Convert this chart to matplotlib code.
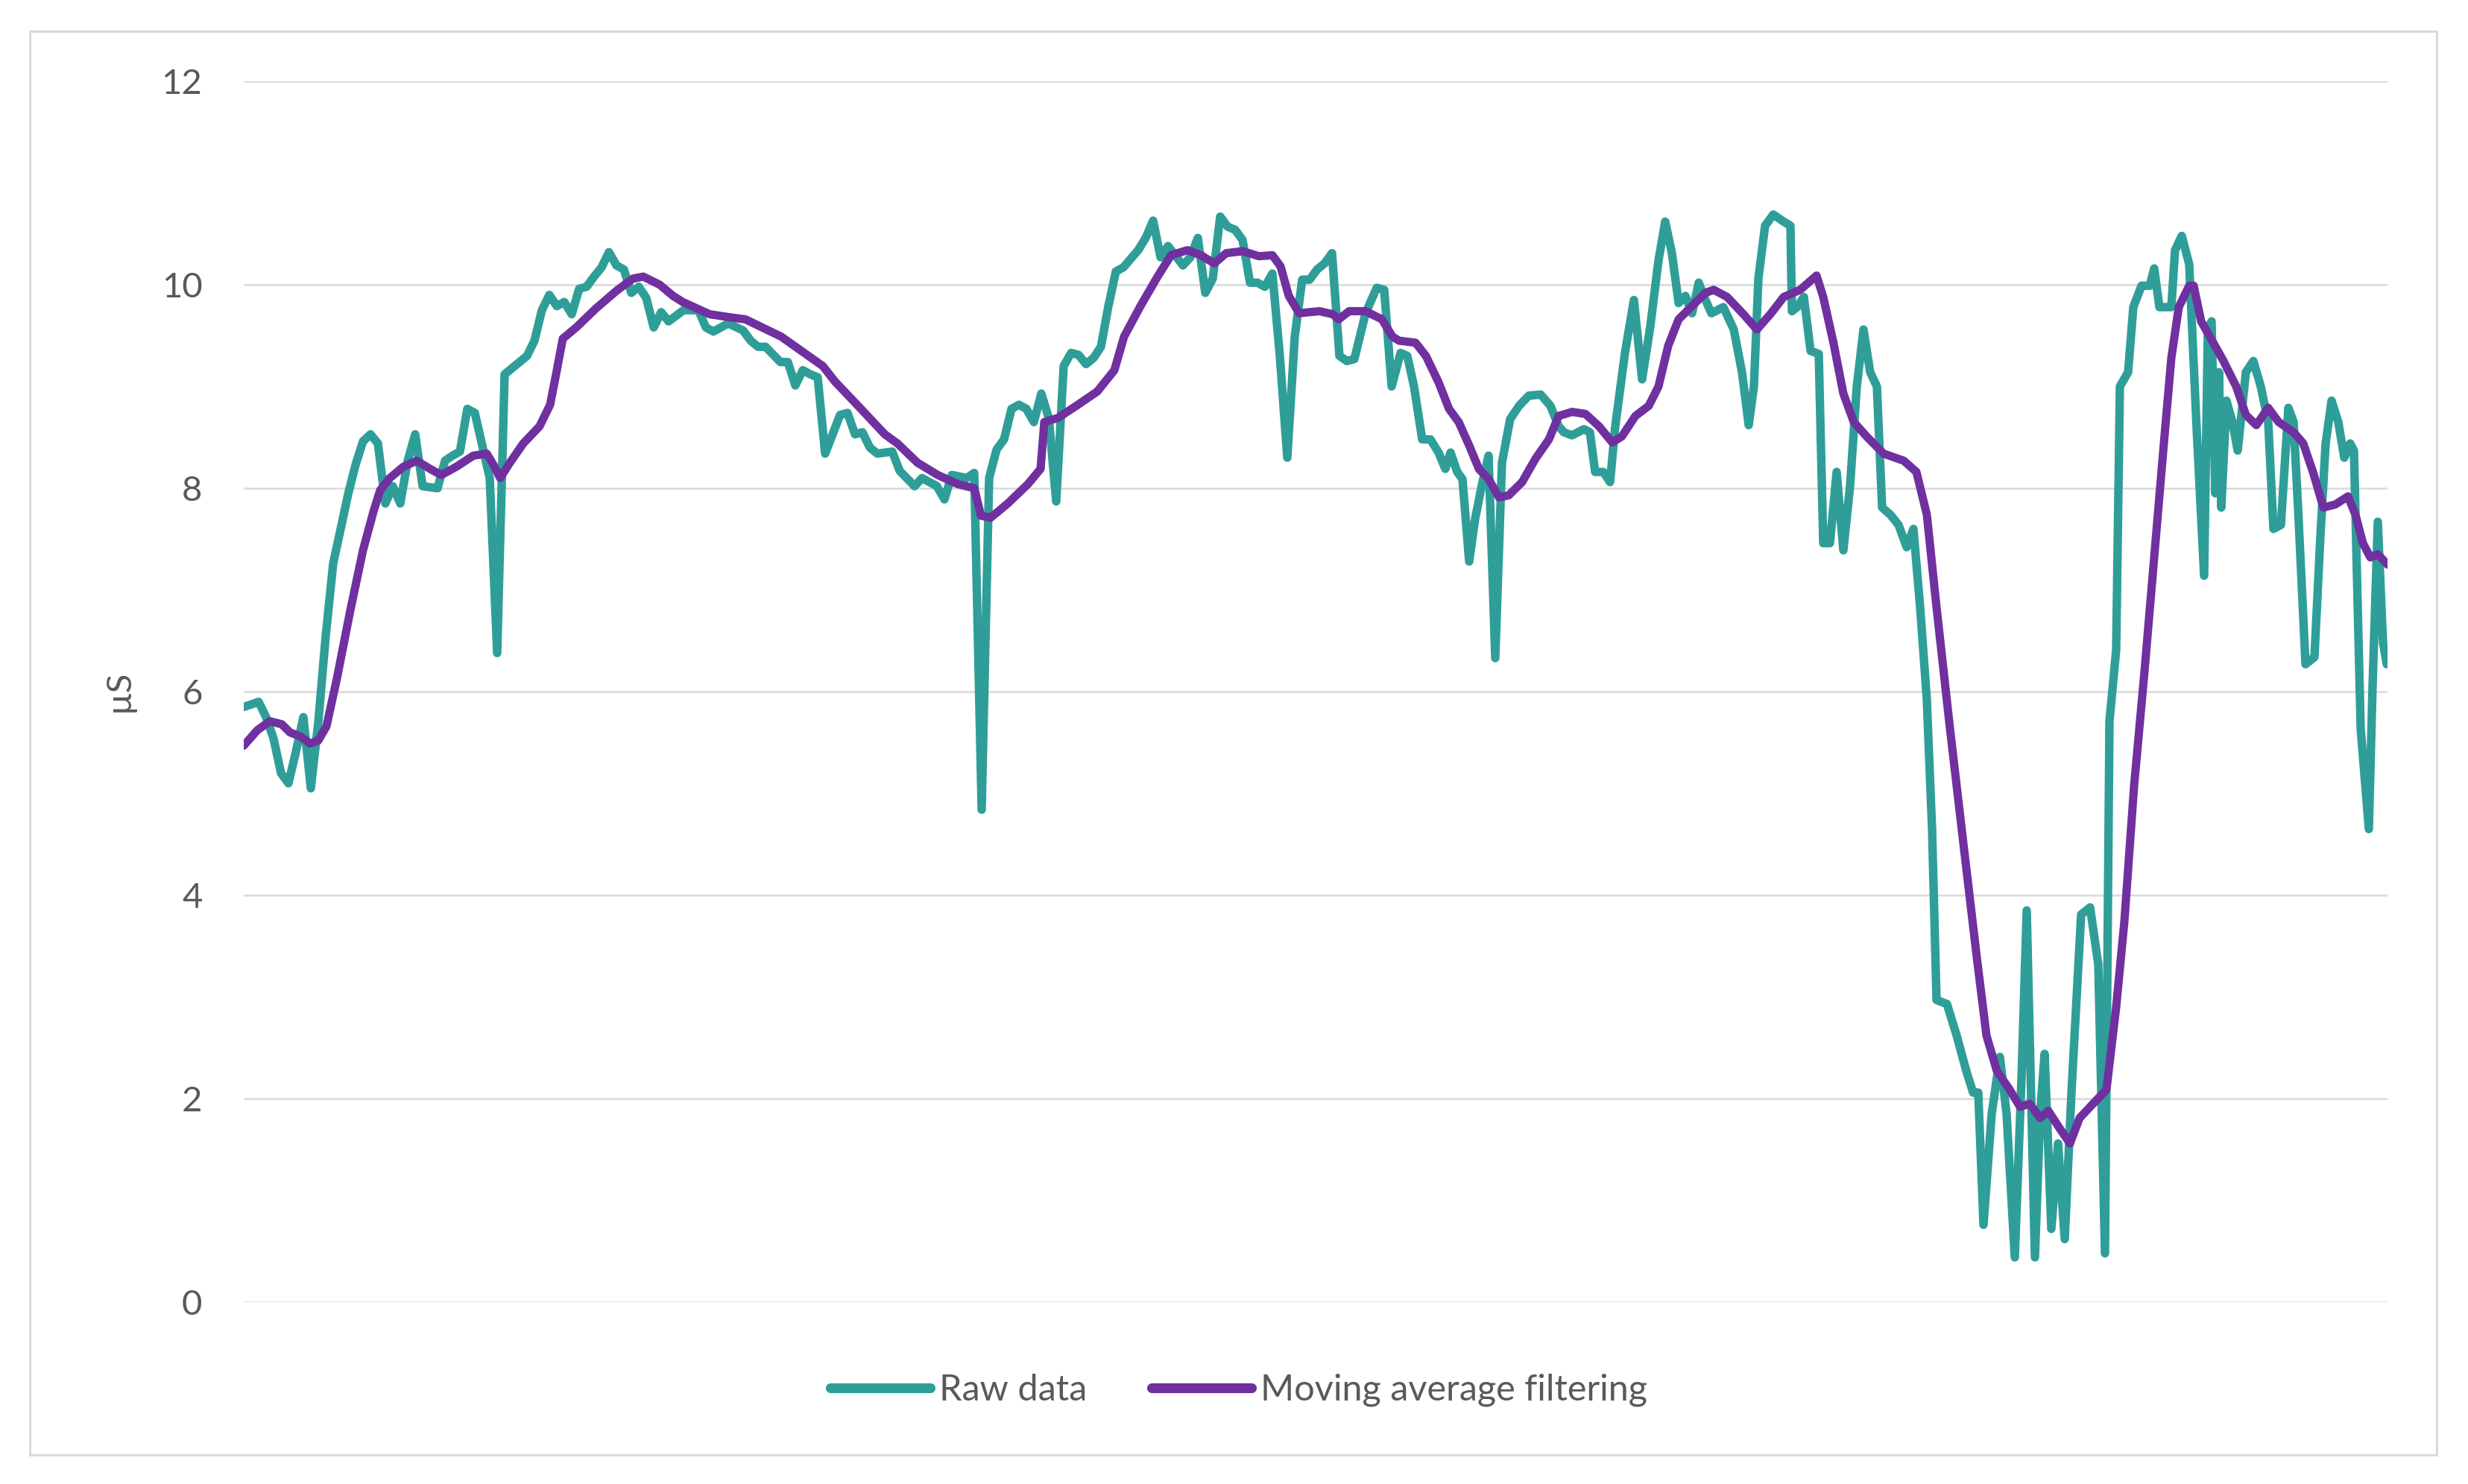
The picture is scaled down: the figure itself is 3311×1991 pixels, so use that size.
import numpy as np
import matplotlib
matplotlib.use("Agg")
import matplotlib.pyplot as plt
from matplotlib.patches import Rectangle

plt.rcParams["font.family"] = ["Lato", "DejaVu Sans"]

# sample index (x) and conductance in µS
raw_t = [0, 2, 3, 4, 5, 6, 7, 8, 9, 10,
         11, 12, 13, 14, 15, 16, 17, 18, 19, 20,
         21, 22, 23, 24, 26, 27, 28, 29, 30, 31,
         33, 34, 35, 37, 38, 39, 40, 41, 42, 43,
         44, 45, 46, 47, 48, 49, 50, 51, 52, 53,
         54, 55, 56, 57, 59, 61, 62, 63, 65, 67,
         68, 69, 70, 72, 73, 74, 75, 76, 77, 78,
         79, 80, 81, 82, 83, 84, 85, 87, 88, 90,
         91, 92, 93, 94, 95, 97, 98, 99, 100, 101,
         102, 103, 104, 105, 106, 107, 108, 109, 110, 111,
         112, 113, 114, 115, 116, 117, 118, 120, 121, 122,
         123, 124, 126, 127, 128, 129, 130, 131, 132, 133,
         134, 135, 136, 137, 138, 139, 140, 141, 142, 143,
         144, 145, 146, 147, 148, 149, 150.5, 152, 153, 154,
         155.2, 156.1, 157, 158.1, 159.2, 160.3, 161.2, 161.9, 162.8, 163.5,
         164.4, 165.2, 166.1, 167, 167.9, 168.8, 169.9, 171.1, 172.4, 174,
         175.3, 176.4, 177.1, 178.2, 179.8, 180.6, 181.3, 182.4, 183.3, 184,
         185.3, 186.5, 187.6, 188.7, 189.8, 190.7, 191.6, 192.5, 193.4, 194.3,
         195.2, 196.1, 196.9, 198.5, 199.9, 201, 201.9, 202.6, 203.2, 204.1,
         205.2, 206.6, 207.5, 207.7, 208.4, 209.3, 210.2, 211.3, 211.9, 212.8,
         213.7, 214.6, 215.5, 216.4, 217.3, 218.2, 219.1, 219.8, 220.9, 222,
         223.1, 224, 224.9, 225.8, 226.5, 227.1, 228.5, 229.8, 231.1, 232,
         232.7, 233.4, 234.5, 235.6, 236.5, 237.6, 238.5, 239.2, 240.3, 241,
         241.6, 242.5, 243.4, 244.3, 245.2, 246.5, 247.7, 248.8, 249.7, 250.3,
         251.2, 251.7, 252.8, 253.5, 254.6, 255.7, 256.3, 257, 258.6, 259.1,
         260, 261, 262, 263, 263.5, 264, 264.5, 265, 265.3, 266,
         266.8, 267.5, 268.6, 269.6, 270.6, 271.6, 272.3, 273.3, 274.3, 275,
         275.6, 276.6, 277.8, 278.6, 279.3, 280.1, 281, 281.8, 282.6, 283.1,
         284, 285.1, 285.6, 286.3, 287, 287.5]

raw_us = [5.85, 5.9, 5.75, 5.54, 5.2, 5.1, 5.41, 5.75, 5.05, 5.7,
          6.55, 7.26, 7.6, 7.94, 8.23, 8.46, 8.53, 8.44, 7.85, 8.02,
          7.85, 8.27, 8.53, 8.02, 8.0, 8.27, 8.32, 8.36, 8.78, 8.74,
          8.1, 6.38, 9.12, 9.24, 9.3, 9.45, 9.75, 9.9, 9.79, 9.83,
          9.71, 9.96, 9.98, 10.08, 10.17, 10.32, 10.19, 10.15, 9.92, 9.98,
          9.87, 9.58, 9.73, 9.64, 9.75, 9.75, 9.58, 9.54, 9.62, 9.55,
          9.45, 9.39, 9.39, 9.24, 9.24, 9.01, 9.16, 9.12, 9.09, 8.34,
          8.53, 8.72, 8.74, 8.53, 8.55, 8.4, 8.34, 8.36, 8.17, 8.02,
          8.1, 8.06, 8.02, 7.89, 8.13, 8.1, 8.15, 4.84, 8.1, 8.38,
          8.48, 8.78, 8.82, 8.78, 8.65, 8.93, 8.69, 7.87, 9.2, 9.33,
          9.31, 9.22, 9.28, 9.39, 9.79, 10.13, 10.17, 10.34, 10.46, 10.63,
          10.27, 10.38, 10.19, 10.27, 10.46, 9.92, 10.06, 10.67, 10.57, 10.54,
          10.44, 10.02, 10.02, 9.98, 10.11, 9.3, 8.3, 9.49, 10.05, 10.05,
          10.15, 10.21, 10.31, 9.3, 9.25, 9.27, 9.72, 9.97, 9.95, 9.0,
          9.33, 9.3, 9.0, 8.48, 8.48, 8.35, 8.19, 8.35, 8.16, 8.09,
          7.28, 7.7, 8.03, 8.32, 6.33, 8.25, 8.68, 8.81, 8.91, 8.92,
          8.81, 8.61, 8.55, 8.52, 8.58, 8.55, 8.16, 8.16, 8.06, 8.61,
          9.33, 9.85, 9.07, 9.59, 10.24, 10.62, 10.31, 9.82, 9.89, 9.72,
          10.02, 9.85, 9.72, 9.78, 9.56, 9.14, 8.62, 9.0, 10.06, 10.58,
          10.69, 10.62, 10.58, 9.74, 9.78, 9.88, 9.35, 9.32, 7.46, 7.46,
          8.16, 7.39, 8.02, 9.0, 9.56, 9.14, 9.0, 7.81, 7.74, 7.64,
          7.42, 7.6, 6.83, 5.92, 4.65, 2.97, 2.93, 2.62, 2.27, 2.06,
          2.06, 0.76, 1.85, 2.41, 1.85, 0.44, 2.2, 3.85, 0.44, 1.85,
          2.44, 0.72, 1.56, 0.62, 2.06, 3.81, 3.88, 3.32, 0.48, 5.71,
          6.41, 9.0, 9.14, 9.78, 9.99, 9.99, 10.16, 9.78, 9.78, 10.34,
          10.48, 10.2, 8.58, 7.14, 9.56, 9.64, 7.95, 9.14, 7.81, 8.86,
          8.65, 8.37, 9.14, 9.25, 9.0, 8.65, 7.6, 7.64, 8.79, 8.65,
          7.81, 6.27, 6.34, 7.53, 8.44, 8.86, 8.65, 8.3, 8.44, 8.37,
          5.64, 4.65, 6.06, 7.67, 6.48, 6.27]

ma_t = [0, 1.8, 3.5, 5.1, 6.2, 7.6, 8.9, 10, 11.1, 12.5,
        14.3, 16, 17.4, 18.3, 19.6, 21.4, 23.2, 25, 26.5, 28.5,
        30.8, 32.6, 33.5, 34.4, 35.7, 37.5, 39.7, 41.1, 41.9, 42.8,
        44.6, 47.3, 50, 52.2, 53.6, 55.8, 57.6, 58.9, 60.7, 62.5,
        65.2, 67.3, 69, 72.1, 74.8, 77.7, 79.3, 82.8, 86, 87.7,
        90.4, 93.1, 95.8, 98, 98.9, 100.2, 102.5, 105.2, 106.9, 107.4,
        109.2, 111.9, 114.5, 116.8, 118.1, 120.3, 122.6, 124.4, 126.6, 128.4,
        130.2, 131.8, 134, 136.2, 138, 139.1, 140.2, 141.6, 144.3, 146.1,
        146.9, 148.3, 150.5, 152.7, 154.1, 155, 157.2, 158.6, 160.3, 161.7,
        163, 164.4, 165.7, 167, 168.4, 169.7, 171.5, 173.3, 175.1, 176.4,
        178.2, 180, 181.8, 183.6, 184.9, 186.7, 188.5, 189.8, 191.1, 192.5,
        194.3, 196.1, 197.2, 199, 201.2, 203, 204.8, 206.6, 208.8, 211,
        211.9, 213.3, 214.6, 216, 217.7, 220, 222.7, 224.4, 225.8, 227.1,
        228.9, 230.7, 232.5, 233.8, 235.2, 236.9, 238.3, 239.6, 241, 242.1,
        243.6, 245, 246.3, 248.1, 249.9, 251.2, 252.3, 253.6, 255, 256.3,
        257.6, 258.6, 259.6, 261, 261.6, 262.6, 264, 265.6, 267.3, 268.6,
        270, 271.6, 273, 275, 276.3, 277.6, 279, 280.6, 282.3, 283.3,
        284.3, 285.3, 286.3, 287.6]

ma_us = [5.47, 5.62, 5.71, 5.68, 5.6, 5.56, 5.49, 5.52, 5.66, 6.13,
         6.8, 7.39, 7.77, 7.98, 8.1, 8.21, 8.27, 8.19, 8.13, 8.21,
         8.32, 8.34, 8.23, 8.1, 8.25, 8.44, 8.61, 8.82, 9.12, 9.47,
         9.58, 9.77, 9.94, 10.06, 10.08, 10.0, 9.89, 9.83, 9.77, 9.71,
         9.68, 9.66, 9.6, 9.49, 9.35, 9.2, 9.05, 8.78, 8.53, 8.44,
         8.25, 8.13, 8.04, 8.0, 7.73, 7.71, 7.85, 8.04, 8.19, 8.65,
         8.69, 8.82, 8.95, 9.16, 9.49, 9.79, 10.08, 10.29, 10.34, 10.29,
         10.21, 10.31, 10.33, 10.28, 10.29, 10.18, 9.89, 9.72, 9.74, 9.71,
         9.66, 9.74, 9.74, 9.66, 9.49, 9.45, 9.43, 9.3, 9.04, 8.78,
         8.65, 8.42, 8.19, 8.09, 7.91, 7.93, 8.06, 8.29, 8.48, 8.71,
         8.75, 8.73, 8.61, 8.45, 8.51, 8.71, 8.81, 9.0, 9.4, 9.66,
         9.79, 9.92, 9.95, 9.88, 9.71, 9.56, 9.71, 9.88, 9.95, 10.09,
         9.88, 9.42, 8.93, 8.65, 8.51, 8.34, 8.27, 8.16, 7.74, 6.83,
         5.64, 4.51, 3.39, 2.62, 2.27, 2.09, 1.92, 1.95, 1.81, 1.88,
         1.71, 1.56, 1.81, 1.95, 2.09, 2.9, 3.74, 5.07, 6.2, 7.32,
         8.44, 9.28, 9.78, 9.99, 9.99, 9.64, 9.46, 9.25, 9.0, 8.72,
         8.62, 8.79, 8.65, 8.55, 8.44, 8.16, 7.81, 7.84, 7.92, 7.74,
         7.46, 7.32, 7.35, 7.25]

y_ticks = [0, 2, 4, 6, 8, 10, 12]
series_names = ["Raw data", "Moving average filtering"]

TEAL = "#2F9E98"
PURPLE = "#7030A0"
GRID = "#D9D9D9"
TEXT = "#595959"

assert len(raw_t) == len(raw_us) and len(ma_t) == len(ma_us)

fig = plt.figure(figsize=(33.11, 19.91), dpi=100)
fig.patches.append(Rectangle((0.0121, 0.0196), 0.9752, 0.9593, transform=fig.transFigure,
                             fill=False, edgecolor=GRID, linewidth=2.2))

ax = fig.add_axes([0.09876, 0.12255, 0.86862, 0.8227])
for v in y_ticks:
    ax.axhline(v, color=GRID, linewidth=1.8, zorder=0)
ax.plot(raw_t, raw_us, color=TEAL, linewidth=8.2, solid_joinstyle="round",
        solid_capstyle="round", label=series_names[0], zorder=2)
ax.plot(ma_t, ma_us, color=PURPLE, linewidth=8.0, solid_joinstyle="round",
        solid_capstyle="round", label=series_names[1], zorder=3)

ax.set_xlim(0, 287.6)
ax.set_ylim(0, 12)
ax.set_xticks([])
ax.set_yticks(y_ticks)
ax.tick_params(axis="y", length=0, pad=40, labelsize=34, labelcolor=TEXT)
for s in ax.spines.values():
    s.set_visible(False)

fig.text(160 / 3311, 1 - 927 / 1991, "µS", rotation=90, ha="center", va="center",
         fontsize=34, color=TEXT)

leg = fig.legend(loc="center", bbox_to_anchor=(0.502, 0.0633), ncol=2, frameon=False,
                 fontsize=35, handlelength=2.75, handletextpad=0.25, columnspacing=1.8)
for t in leg.get_texts():
    t.set_color(TEXT)
for h in leg.get_lines():
    h.set_linewidth(9.5)

fig.savefig("out.png", dpi=100)
